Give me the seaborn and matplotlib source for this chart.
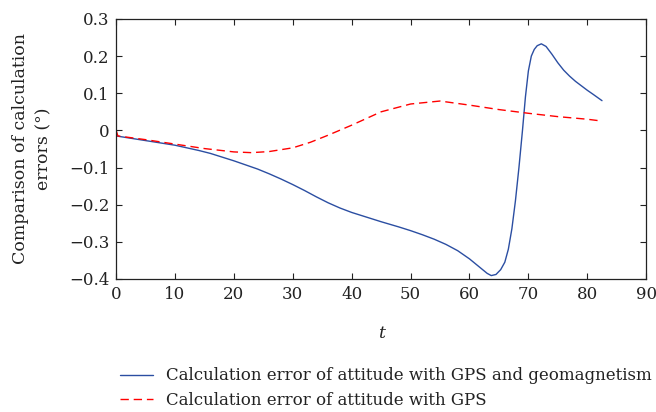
import numpy as np
import pandas as pd
import matplotlib
matplotlib.use("Agg")
import matplotlib.pyplot as plt
import seaborn as sns

t_blue = [0, 2, 4, 6, 8, 10, 12, 14, 16, 18, 20, 22, 24, 26, 28, 30, 32, 34, 36, 38,
          40, 42, 45, 48, 50, 52, 54, 56, 58, 60, 62, 63, 63.7, 64.5, 65.3, 66, 66.6, 67.2,
          67.8, 68.4, 69, 69.5, 70, 70.5, 71, 71.5, 72.2, 73, 74, 75, 76, 77, 78, 79,
          80, 81, 82.5]
v_blue = [-0.015, -0.02, -0.025, -0.03, -0.035, -0.04, -0.047, -0.054, -0.062, -0.072,
          -0.082, -0.093, -0.104, -0.117, -0.131, -0.146, -0.162, -0.179, -0.195, -0.209,
          -0.221, -0.231, -0.246, -0.26, -0.27, -0.281, -0.293, -0.307, -0.324, -0.346,
          -0.372, -0.385, -0.391, -0.388, -0.375, -0.355, -0.32, -0.265, -0.19, -0.1, 0.0,
          0.09, 0.16, 0.2, 0.218, 0.228, 0.233, 0.226, 0.205, 0.182, 0.162, 0.146, 0.132,
          0.12, 0.108, 0.097, 0.08]

t_red = [0, 0.3, 5, 10, 15, 20, 23, 26, 30, 33, 36, 40, 45, 50, 55, 60, 65, 70, 75,
         80, 82.5]
v_red = [0.0, -0.015, -0.025, -0.037, -0.049, -0.058, -0.06, -0.057, -0.047, -0.032,
         -0.013, 0.014, 0.05, 0.071, 0.079, 0.068, 0.056, 0.046, 0.037, 0.03, 0.025]

xticks = [0, 10, 20, 30, 40, 50, 60, 70, 80, 90]
yticks = [-0.4, -0.3, -0.2, -0.1, 0, 0.1, 0.2, 0.3]
ytick_labels = ["\u22120.4", "\u22120.3", "\u22120.2", "\u22120.1", "0", "0.1", "0.2", "0.3"]

label_blue = "Calculation error of attitude with GPS and geomagnetism"
label_red = "Calculation error of attitude with GPS"

df = pd.concat([
    pd.DataFrame({"t": t_blue, "v": v_blue, "series": label_blue}),
    pd.DataFrame({"t": t_red, "v": v_red, "series": label_red}),
])

sns.set_style("ticks")
plt.rcParams["font.family"] = ["DejaVu Serif"]
plt.rcParams["font.size"] = 12

fig = plt.figure(figsize=(6.56, 4.12), dpi=100)
ax = fig.add_axes([0.177, 0.323, 0.808, 0.631])

sns.lineplot(data=df, x="t", y="v", hue="series", style="series",
             palette={label_blue: "#2b4ea2", label_red: "#ff0000"},
             dashes={label_blue: "", label_red: (6, 3.5)},
             sort=False, estimator=None, linewidth=1.0, ax=ax, legend=True)

ax.set_xlim(0, 90)
ax.set_ylim(-0.4, 0.3)
ax.set_xticks(xticks)
ax.set_yticks(yticks)
ax.set_yticklabels(ytick_labels)
ax.tick_params(direction="in", top=True, right=True, length=4, width=0.8,
               labelsize=12, colors="#222222", pad=5)
for s in ax.spines.values():
    s.set_linewidth(0.9)
    s.set_color("#222222")
ax.set_xlabel("t", fontstyle="italic", fontsize=12.5, labelpad=16, color="#222222")
ax.set_ylabel("Comparison of calculation\nerrors (\u00b0)", fontsize=12.5, labelpad=12,
              linespacing=1.5, color="#222222")

h, l = ax.get_legend_handles_labels()
leg = ax.legend(h, l, loc="upper left", bbox_to_anchor=(-0.005, -0.315), frameon=False,
                fontsize=12, handlelength=2.0, handletextpad=0.75, labelspacing=0.45,
                borderaxespad=0)
for txt in leg.get_texts():
    txt.set_color("#222222")

fig.savefig("out.png", dpi=100)
